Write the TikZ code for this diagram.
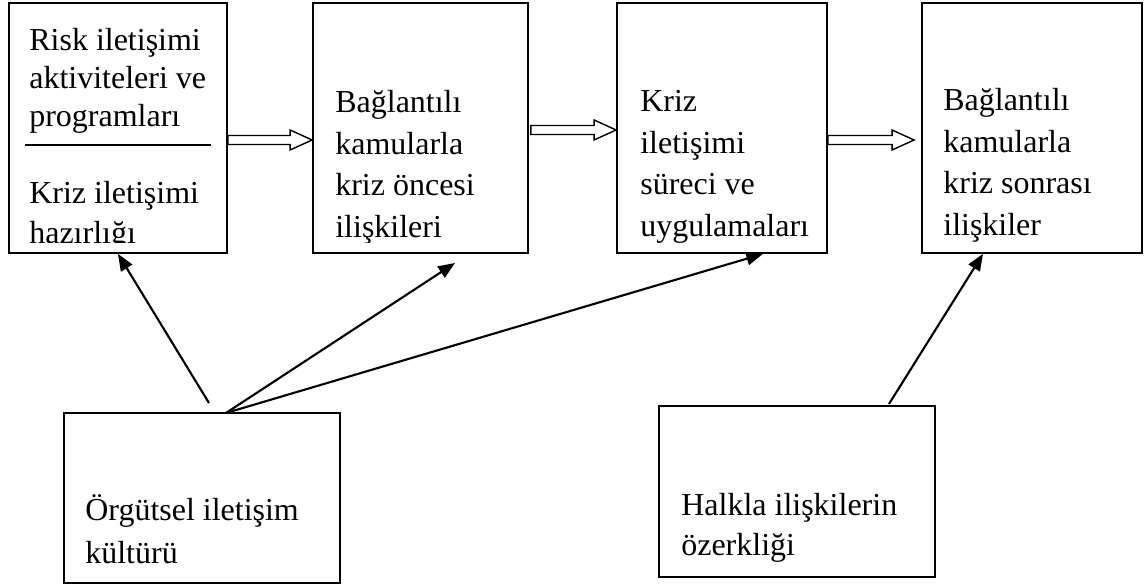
\documentclass[tikz,border=0pt]{standalone}
\usepackage{fontspec}
\setmainfont{Liberation Serif}
\usetikzlibrary{positioning,fit,calc,arrows.meta}

\begin{document}
\begin{tikzpicture}[scale=0.2]
\tikzstyle{every node}+=[inner sep=0pt]
\tikzstyle{box}=[draw, line width=1pt]
\tikzstyle{txt}=[anchor=base west, font=\fontsize{18.2}{22}\selectfont]
\tikzstyle{link}=[line width=1.2pt, -{Triangle[length=9.5pt,width=7.5pt]}]
\tikzstyle{hollow}=[line width=0.8pt, fill=white]
\useasboundingbox (0,0) rectangle (114.4,-58.7);
% boxes
\node [box, fit={(0.9,-0.3) (22.7,-25.3)}] (risk) {};
\node [box, fit={(31.3,-0.3) (52.8,-25.3)}] (pre) {};
\node [box, fit={(61.7,-0.3) (82.7,-25.3)}] (proc) {};
\node [box, fit={(92.2,-0.3) (114.2,-25.3)}] (post) {};
\node [box, fit={(6.4,-41.3) (34.0,-58.3)}] (cult) {};
\node [box, fit={(65.9,-40.6) (93.5,-57.7)}] (auto) {};
\draw [line width=1.1pt] (2.5,-14.5) -- (21.1,-14.5);
% texts, cut off at the lower margin of the upper boxes
\begin{scope}
\clip (0,0) rectangle (114.4,-24.3);
\foreach \t [count=\i] in {Risk iletişimi, aktiviteleri ve, programları}
  \node [txt] (risk\i) at (2.9,{-5.1-3.8*(\i-1)}) {\t};
\foreach \t [count=\i] in {Kriz iletişimi, hazırlığı}
  \node [txt] (prep\i) at (2.9,{-20.4-4.0*(\i-1)}) {\t};
\foreach \t [count=\i] in {Bağlantılı, kamularla, kriz öncesi, ilişkileri}
  \node [txt] (pre\i) at (33.5,{-11.3-4.15*(\i-1)}) {\t};
\foreach \t [count=\i] in {Kriz, iletişimi, süreci ve, uygulamaları}
  \node [txt] (proc\i) at (64.0,{-11.2-4.15*(\i-1)}) {\t};
\foreach \t [count=\i] in {Bağlantılı, kamularla, kriz sonrası, ilişkiler}
  \node [txt] (post\i) at (94.3,{-11.1-4.15*(\i-1)}) {\t};
\end{scope}
\foreach \t [count=\i] in {Örgütsel iletişim, kültürü}
  \node [txt] (cult\i) at (8.5,{-52.0-4.3*(\i-1)}) {\t};
\foreach \t [count=\i] in {Halkla ilişkilerin, özerkliği}
  \node [txt] (auto\i) at (68.1,{-51.5-4.0*(\i-1)}) {\t};
% hollow arrows between the upper boxes
\coordinate (a12s) at (risk.east |- 0,-14.0);
\coordinate (a12e) at (pre.west |- 0,-14.0);
\coordinate (a23s) at ($(pre.east |- 0,-13.0)+(0.2,0)$);
\coordinate (a23e) at (proc.west |- 0,-13.0);
\coordinate (a34s) at (proc.east |- 0,-14.0);
\coordinate (a34e) at ($(post.west |- 0,-14.0)+(-0.7,0)$);
\foreach \s/\e in {a12s/a12e, a23s/a23e, a34s/a34e}
  \draw [hollow] ($(\s)+(0,0.45)$) -- ($(\e)+(-2.2,0.45)$) -- ++(0,0.55) -- (\e)
    -- ++(-2.2,-1) -- ++(0,0.55) -- ($(\s)+(0,-0.45)$) -- cycle;
% influences
\coordinate (c1) at (20.9,-40.3);
\coordinate (c2) at (22.6,-41.3);
\coordinate (h1) at (88.9,-40.4);
\coordinate (preIn) at (45.5,-26.3);
\draw [link] (c1) -- (risk.south);
\draw [link] (c2) -- (preIn);
\draw [link] (c2) -- (proc.south -| 76.3,0);
\draw [link] (h1) -- (post.south -| 98.3,0);
\end{tikzpicture}
\end{document}
